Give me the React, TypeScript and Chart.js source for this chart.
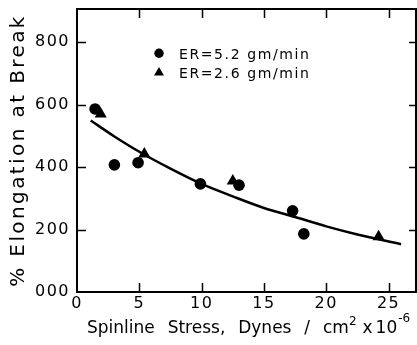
import React, { useEffect, useRef } from 'react';
import { Chart, registerables } from 'chart.js';

Chart.register(...registerables);

// ---- data ----
const curveX = [1.1, 3, 5, 7.5, 10, 12.5, 15, 17.5, 20, 22.5, 26];
const curveY = [549, 498, 449, 395, 346, 306, 269, 240, 210, 184, 153];
const er52X = [1.45, 3.0, 4.9, 9.9, 13.0, 17.3, 18.2];
const er52Y = [586, 407, 414, 346, 342, 260, 186];
const er26X = [1.9, 5.4, 12.5, 24.2];
const er26Y = [570, 442, 355, 177];
const xTicks = [0, 5, 10, 15, 20, 25];
const yTicks = [0, 200, 400, 600, 800];
const yTickLabels = ['000', '200', '400', '600', '800'];
const legendLabels = ['ER=5.2 gm/min', 'ER=2.6 gm/min'];
const yTitle = '% Elongation at Break';
const xTitleMain = 'Spinline Stress, Dynes / cm';
const xTitleSup1 = '2';
const xTitleMid = ['x', '10'];
const xTitleSup2 = '-6';

const FONT = '"DejaVu Sans", sans-serif';

const framePlugin = {
  id: 'frame',
  beforeDraw(chart: any) {
    (chart.ctx as any).letterSpacing = '1.5px';
  },
  afterDraw(chart: any) {
    const ctx = chart.ctx as CanvasRenderingContext2D & any;
    const { left, right, top, bottom } = chart.chartArea;
    const sx = chart.scales.x;
    const sy = chart.scales.y;
    ctx.save();
    ctx.letterSpacing = '0px';
    ctx.strokeStyle = '#000';
    ctx.fillStyle = '#000';
    // frame top & right
    ctx.lineWidth = 2;
    ctx.beginPath();
    ctx.moveTo(left - 1, top);
    ctx.lineTo(right, top);
    ctx.lineTo(right, bottom + 1);
    ctx.stroke();
    // inward ticks
    ctx.lineWidth = 1.5;
    ctx.beginPath();
    for (const v of yTicks) {
      if (v === 0) continue;
      const y = Math.round(sy.getPixelForValue(v)) + 0.5;
      ctx.moveTo(left, y);
      ctx.lineTo(left + 9, y);
      ctx.moveTo(right - 7, y);
      ctx.lineTo(right, y);
    }
    for (const v of xTicks) {
      if (v === 0) continue;
      const x = Math.round(sx.getPixelForValue(v)) + 0.5;
      ctx.moveTo(x, bottom);
      ctx.lineTo(x, bottom - 9);
      ctx.moveTo(x, top);
      ctx.lineTo(x, top + 9);
    }
    ctx.stroke();

    // legend
    const lx = left + 82;
    const ly1 = top + 44.3;
    const ly2 = top + 63.7;
    ctx.beginPath();
    ctx.arc(lx, ly1, 4.7, 0, Math.PI * 2);
    ctx.fill();
    ctx.beginPath();
    ctx.moveTo(lx, ly2 - 5.8);
    ctx.lineTo(lx - 5, ly2 + 2.9);
    ctx.lineTo(lx + 5, ly2 + 2.9);
    ctx.closePath();
    ctx.fill();
    ctx.font = `14px ${FONT}`;
    ctx.letterSpacing = '1.6px';
    ctx.textAlign = 'left';
    ctx.textBaseline = 'alphabetic';
    ctx.fillText(legendLabels[0], left + 102, top + 50);
    ctx.fillText(legendLabels[1], left + 102, top + 68.7);

    // y title
    ctx.save();
    ctx.translate(24, (top + bottom) / 2);
    ctx.rotate(-Math.PI / 2);
    ctx.font = `20px ${FONT}`;
    ctx.letterSpacing = '2.4px';
    ctx.textAlign = 'center';
    ctx.fillText(yTitle, 0, 0);
    ctx.restore();

    // x title
    ctx.letterSpacing = '0px';
    ctx.wordSpacing = '7.5px';
    ctx.textAlign = 'left';
    let x = left + 10;
    const base = bottom + 41;
    ctx.font = `17px ${FONT}`;
    ctx.fillText(xTitleMain, x, base);
    x += ctx.measureText(xTitleMain).width;
    ctx.wordSpacing = '0px';
    ctx.font = `12px ${FONT}`;
    ctx.fillText(xTitleSup1, x, base - 8);
    x += ctx.measureText(xTitleSup1).width + 6;
    ctx.font = `17px ${FONT}`;
    ctx.fillText(xTitleMid[0], x, base);
    x += ctx.measureText(xTitleMid[0]).width + 3;
    ctx.fillText(xTitleMid[1], x, base);
    x += ctx.measureText(xTitleMid[1]).width + 1;
    ctx.font = `12px ${FONT}`;
    ctx.fillText(xTitleSup2, x, base - 11);
    ctx.restore();
  },
};

export default function App() {
  const ref = useRef<HTMLCanvasElement | null>(null);
  useEffect(() => {
    if (!ref.current) return;
    const chart = new Chart(ref.current, {
      type: 'scatter',
      data: {
        datasets: [
          {
            label: 'fit',
            data: curveX.map((x, i) => ({ x, y: curveY[i] })),
            showLine: true,
            borderColor: '#000',
            borderWidth: 2.5,
            pointRadius: 0,
            tension: 0.4,
            cubicInterpolationMode: 'monotone',
            fill: false,
          } as any,
          {
            label: legendLabels[0],
            data: er52X.map((x, i) => ({ x, y: er52Y[i] })),
            pointStyle: 'circle',
            pointRadius: 5.8,
            backgroundColor: '#000',
            borderColor: '#000',
            borderWidth: 0,
          },
          {
            label: legendLabels[1],
            data: er26X.map((x, i) => ({ x, y: er26Y[i] })),
            pointStyle: 'triangle',
            pointRadius: 7,
            backgroundColor: '#000',
            borderColor: '#000',
            borderWidth: 0,
          },
        ],
      },
      options: {
        animation: false,
        responsive: false,
        devicePixelRatio: 1,
        layout: { autoPadding: false, padding: { top: 9, right: 1, left: 0, bottom: 0 } },
        plugins: { legend: { display: false }, tooltip: { enabled: false } },
        scales: {
          x: {
            type: 'linear',
            min: 0,
            max: 27.2,
            afterFit: (s: any) => { s.height = 53; s.paddingLeft = 0; s.paddingRight = 0; },
            afterBuildTicks: (s: any) => { s.ticks = xTicks.map((v) => ({ value: v })); },
            grid: { display: false, drawTicks: false },
            border: { display: true, color: '#000', width: 2 },
            ticks: {
              color: '#000',
              font: { family: FONT, size: 16 },
              padding: 2,
              maxRotation: 0,
              callback: (v: any) => String(v),
            },
          },
          y: {
            type: 'linear',
            min: 0,
            max: 906,
            afterFit: (s: any) => { s.width = 77; s.paddingTop = 0; s.paddingBottom = 0; },
            afterBuildTicks: (s: any) => { s.ticks = yTicks.map((v) => ({ value: v })); },
            grid: { display: false, drawTicks: false },
            border: { display: true, color: '#000', width: 2 },
            ticks: {
              color: '#000',
              font: { family: FONT, size: 16 },
              padding: 7,
              callback: (v: any) => yTickLabels[yTicks.indexOf(v)] ?? '',
            },
          },
        },
      },
      plugins: [framePlugin],
    });
    return () => chart.destroy();
  }, []);
  return (
    <div style={{ position: 'absolute', left: 0, top: 0, width: 417, height: 345, background: '#fff' }}>
      <canvas ref={ref} width={417} height={345} style={{ display: 'block' }} />
    </div>
  );
}
